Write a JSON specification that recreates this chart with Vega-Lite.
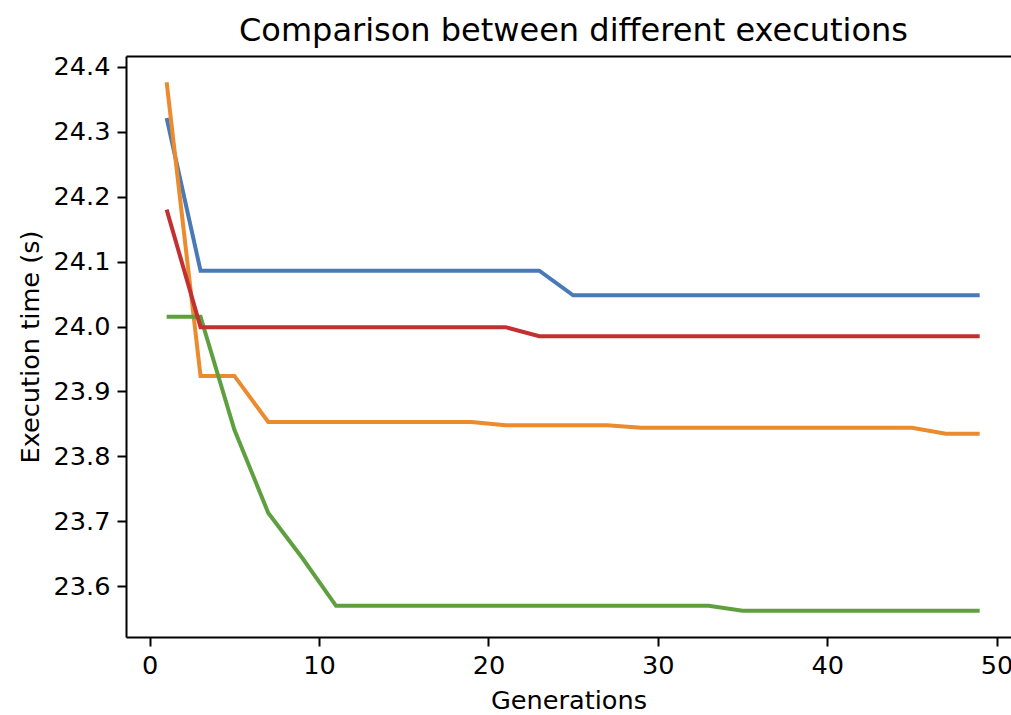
{
  "$schema": "https://vega.github.io/schema/vega-lite/v6.json",
  "autosize": {"type": "none"},
  "padding": {"left": 126, "top": 56, "right": 0, "bottom": 78},
  "width": 885,
  "height": 581,
  "title": {
    "text": "Comparison between different executions",
    "fontSize": 32,
    "font": "DejaVu Sans",
    "fontWeight": "normal",
    "color": "#000000",
    "anchor": "middle",
    "frame": "group",
    "baseline": "bottom",
    "offset": 8,
    "dx": 5,
    "dy": 33
  },
  "config": {
    "view": {"stroke": null},
    "font": "DejaVu Sans",
    "axis": {
      "grid": false,
      "domainColor": "#000000",
      "domainWidth": 2,
      "tickColor": "#000000",
      "tickWidth": 2,
      "tickSize": 9,
      "labelPadding": 7,
      "labelFontSize": 25.6,
      "labelColor": "#000000",
      "labelFont": "DejaVu Sans",
      "titleFont": "DejaVu Sans",
      "titleFontSize": 25.6,
      "titleFontWeight": "normal",
      "titleColor": "#000000",
      "titlePadding": 10
    }
  },
  "data": {
    "values": [
      {"run": "A", "gen": 1, "t": 24.321}, {"run": "A", "gen": 3, "t": 24.086}, {"run": "A", "gen": 5, "t": 24.086}, {"run": "A", "gen": 7, "t": 24.086}, {"run": "A", "gen": 9, "t": 24.086}, {"run": "A", "gen": 11, "t": 24.086}, {"run": "A", "gen": 13, "t": 24.086}, {"run": "A", "gen": 15, "t": 24.086}, {"run": "A", "gen": 17, "t": 24.086}, {"run": "A", "gen": 19, "t": 24.086}, {"run": "A", "gen": 21, "t": 24.086}, {"run": "A", "gen": 23, "t": 24.086}, {"run": "A", "gen": 25, "t": 24.048}, {"run": "A", "gen": 27, "t": 24.048}, {"run": "A", "gen": 29, "t": 24.048}, {"run": "A", "gen": 31, "t": 24.048}, {"run": "A", "gen": 33, "t": 24.048}, {"run": "A", "gen": 35, "t": 24.048}, {"run": "A", "gen": 37, "t": 24.048}, {"run": "A", "gen": 39, "t": 24.048}, {"run": "A", "gen": 41, "t": 24.048}, {"run": "A", "gen": 43, "t": 24.048}, {"run": "A", "gen": 45, "t": 24.048}, {"run": "A", "gen": 47, "t": 24.048}, {"run": "A", "gen": 49, "t": 24.048},
      {"run": "B", "gen": 1, "t": 24.376}, {"run": "B", "gen": 3, "t": 23.924}, {"run": "B", "gen": 5, "t": 23.924}, {"run": "B", "gen": 7, "t": 23.853}, {"run": "B", "gen": 9, "t": 23.853}, {"run": "B", "gen": 11, "t": 23.853}, {"run": "B", "gen": 13, "t": 23.853}, {"run": "B", "gen": 15, "t": 23.853}, {"run": "B", "gen": 17, "t": 23.853}, {"run": "B", "gen": 19, "t": 23.853}, {"run": "B", "gen": 21, "t": 23.848}, {"run": "B", "gen": 23, "t": 23.848}, {"run": "B", "gen": 25, "t": 23.848}, {"run": "B", "gen": 27, "t": 23.848}, {"run": "B", "gen": 29, "t": 23.844}, {"run": "B", "gen": 31, "t": 23.844}, {"run": "B", "gen": 33, "t": 23.844}, {"run": "B", "gen": 35, "t": 23.844}, {"run": "B", "gen": 37, "t": 23.844}, {"run": "B", "gen": 39, "t": 23.844}, {"run": "B", "gen": 41, "t": 23.844}, {"run": "B", "gen": 43, "t": 23.844}, {"run": "B", "gen": 45, "t": 23.844}, {"run": "B", "gen": 47, "t": 23.835}, {"run": "B", "gen": 49, "t": 23.835},
      {"run": "C", "gen": 1, "t": 24.015}, {"run": "C", "gen": 3, "t": 24.015}, {"run": "C", "gen": 5, "t": 23.841}, {"run": "C", "gen": 7, "t": 23.713}, {"run": "C", "gen": 9, "t": 23.644}, {"run": "C", "gen": 11, "t": 23.570}, {"run": "C", "gen": 13, "t": 23.570}, {"run": "C", "gen": 15, "t": 23.570}, {"run": "C", "gen": 17, "t": 23.570}, {"run": "C", "gen": 19, "t": 23.570}, {"run": "C", "gen": 21, "t": 23.570}, {"run": "C", "gen": 23, "t": 23.570}, {"run": "C", "gen": 25, "t": 23.570}, {"run": "C", "gen": 27, "t": 23.570}, {"run": "C", "gen": 29, "t": 23.570}, {"run": "C", "gen": 31, "t": 23.570}, {"run": "C", "gen": 33, "t": 23.570}, {"run": "C", "gen": 35, "t": 23.5625}, {"run": "C", "gen": 37, "t": 23.5625}, {"run": "C", "gen": 39, "t": 23.5625}, {"run": "C", "gen": 41, "t": 23.5625}, {"run": "C", "gen": 43, "t": 23.5625}, {"run": "C", "gen": 45, "t": 23.5625}, {"run": "C", "gen": 47, "t": 23.5625}, {"run": "C", "gen": 49, "t": 23.5625},
      {"run": "D", "gen": 1, "t": 24.180}, {"run": "D", "gen": 3, "t": 23.999}, {"run": "D", "gen": 5, "t": 23.999}, {"run": "D", "gen": 7, "t": 23.999}, {"run": "D", "gen": 9, "t": 23.999}, {"run": "D", "gen": 11, "t": 23.999}, {"run": "D", "gen": 13, "t": 23.999}, {"run": "D", "gen": 15, "t": 23.999}, {"run": "D", "gen": 17, "t": 23.999}, {"run": "D", "gen": 19, "t": 23.999}, {"run": "D", "gen": 21, "t": 23.999}, {"run": "D", "gen": 23, "t": 23.985}, {"run": "D", "gen": 25, "t": 23.985}, {"run": "D", "gen": 27, "t": 23.985}, {"run": "D", "gen": 29, "t": 23.985}, {"run": "D", "gen": 31, "t": 23.985}, {"run": "D", "gen": 33, "t": 23.985}, {"run": "D", "gen": 35, "t": 23.985}, {"run": "D", "gen": 37, "t": 23.985}, {"run": "D", "gen": 39, "t": 23.985}, {"run": "D", "gen": 41, "t": 23.985}, {"run": "D", "gen": 43, "t": 23.985}, {"run": "D", "gen": 45, "t": 23.985}, {"run": "D", "gen": 47, "t": 23.985}, {"run": "D", "gen": 49, "t": 23.985}
    ]
  },
  "layer": [
    {
      "mark": {"type": "line", "strokeWidth": 4, "clip": true},
      "encoding": {
        "x": {
          "field": "gen", "type": "quantitative",
          "scale": {"domain": [-1.4, 50.85], "nice": false, "zero": false},
          "axis": {"values": [0, 10, 20, 30, 40, 50], "title": "Generations", "labelFlush": false, "labelOverlap": false, "labelBound": false}
        },
        "y": {
          "field": "t", "type": "quantitative",
          "scale": {"domain": [23.522, 24.4165], "nice": false, "zero": false},
          "axis": {"values": [23.6, 23.7, 23.8, 23.9, 24.0, 24.1, 24.2, 24.3, 24.4], "format": ".1f", "title": "Execution time (s)", "labelOverlap": false}
        },
        "color": {
          "field": "run", "type": "nominal",
          "scale": {"domain": ["A", "B", "C", "D"], "range": ["#4a7ab6", "#ec8a2e", "#5ea03e", "#c2302f"]},
          "legend": null
        }
      }
    },
    {
      "mark": {"type": "line", "opacity": 0},
      "encoding": {
        "x": {
          "field": "gen", "type": "quantitative",
          "axis": {"orient": "top", "labels": false, "ticks": false, "title": null, "domain": true}
        },
        "y": {"field": "t", "type": "quantitative"},
        "detail": {"field": "run"}
      }
    }
  ],
  "resolve": {"axis": {"x": "independent"}}
}
